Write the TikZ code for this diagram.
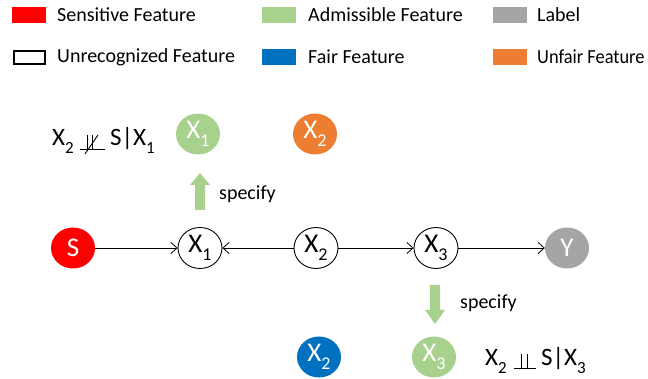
\documentclass[tikz,border=0pt]{standalone}
\usepackage{fontspec}
\setmainfont{Carlito}
\usetikzlibrary{arrows.meta,shapes.geometric}
\definecolor{sred}{HTML}{FF0000}
\definecolor{agreen}{HTML}{A9D18E}
\definecolor{lgray}{HTML}{A5A5A5}
\definecolor{fblue}{HTML}{0070C0}
\definecolor{uorange}{HTML}{ED7D31}
\newcommand{\nsub}[1]{\raisebox{-0.32em}{\fontsize{18}{18}\selectfont #1}}
\newcommand{\fsub}[1]{\raisebox{-0.3em}{\fontsize{17}{17}\selectfont #1}}
\tikzset{
  fnode/.style={ellipse, minimum width=44pt, minimum height=41pt, inner sep=0pt,
    font=\fontsize{27}{27}\selectfont},
  unrec/.style={fnode, draw=black, line width=0.9pt, fill=white, text=black},
  filled/.style={fnode, fill=#1, text=white},
  legtext/.style={anchor=west, inner sep=0pt, font=\fontsize{20}{24}\selectfont},
  legbox/.style={minimum width=34pt, minimum height=16pt, inner sep=0pt, fill=#1},
  formula/.style={anchor=base west, inner sep=0pt, font=\fontsize{25}{25}\selectfont},
  edge/.style={line width=0.8pt, -{Straight Barb[length=6pt,width=11pt]}},
  spec/.style={anchor=west, inner sep=0pt, font=\fontsize{20}{24}\selectfont},
  symb/.style={line width=0.9pt},
}
\begin{document}
\begin{tikzpicture}[x=1pt,y=-1pt]
\useasboundingbox (0,0) rectangle (648,379);
% legend
\node[legbox=sred] (l1) at (29,15) {};
\node[legtext] (t1) at (57,15) {Sensitive Feature};
\node[legbox=agreen] (l2) at (279,15) {};
\node[legtext] (t2) at (308,15) {Admissible Feature};
\node[legbox=lgray] (l3) at (510,15) {};
\node[legtext] (t3) at (537,15) {Label};
\node[minimum width=31pt, minimum height=13pt, inner sep=0pt, draw=black, line width=2.5pt] (l4) at (29.5,57.5) {};
\node[legtext] (t4) at (57,57) {Unrecognized Feature};
\node[legbox=fblue] (l5) at (279,57) {};
\node[legtext] (t5) at (308,57) {Fair Feature};
\node[legbox=uorange] (l6) at (510,57) {};
\node[legtext] (t6) at (537,57) {\scalebox{0.92}[1]{Unfair Feature}};

% main chain
\node[filled=sred] (S) at (73,248) {S};
\node[unrec] (X1) at (200,248) {X\nsub{1}};
\node[unrec] (X2) at (316,248) {X\nsub{2}};
\node[unrec] (X3) at (436,248) {X\nsub{3}};
\node[filled=lgray] (Y) at (567,248) {Y};
\draw[edge] (S) -- (X1);
\draw[edge] (X2) -- (X1);
\draw[edge] (X2) -- (X3);
\draw[edge] (X3) -- (Y);

% top
\node[filled=agreen] (tX1) at (198,134) {X\nsub{1}};
\node[filled=uorange] (tX2) at (315,134) {X\nsub{2}};
\coordinate (ua) at (200,210);
\fill[agreen] ([xshift=-5]ua) -- ++(0,-25) -- ++(-5,0) -- ++(10,-12) -- ++(10,12) -- ++(-5,0) -- ++(0,25) -- cycle;
\node[spec] (sp1) at (219,194) {specify};

% top formula
\node[formula] (f1a) at (52,146) {X\fsub{2}};
\coordinate (p1) at ([xshift=6]f1a.base east);
\draw[symb] ([yshift=-3]p1) -- ++(25,0);
\draw[symb] ([xshift=7,yshift=-3]p1) -- ++(0,-14);
\draw[symb] ([xshift=12,yshift=-3]p1) -- ++(0,-14);
\draw[symb] ([xshift=5,yshift=-8]p1) -- ++(13,-19);
\node[formula] (f1b) at ([xshift=30]p1) {S|X\fsub{1}};

% bottom
\coordinate (da) at (435,285);
\fill[agreen] ([xshift=-5]da) -- ++(0,25) -- ++(-5,0) -- ++(10,14) -- ++(10,-14) -- ++(-5,0) -- ++(0,-25) -- cycle;
\node[spec] (sp2) at (460,303) {specify};
\node[filled=fblue] (bX2) at (319,357) {X\nsub{2}};
\node[filled=agreen] (bX3) at (434,357) {X\nsub{3}};

% bottom formula
\node[formula] (f2a) at (485,366) {X\fsub{2}};
\coordinate (p2) at ([xshift=7]f2a.base east);
\draw[symb] ([yshift=-2]p2) -- ++(22,0);
\draw[symb] ([xshift=7,yshift=-2]p2) -- ++(0,-14);
\draw[symb] ([xshift=13,yshift=-2]p2) -- ++(0,-14);
\node[formula] (f2b) at ([xshift=27]p2) {S|X\fsub{3}};
\end{tikzpicture}
\end{document}
